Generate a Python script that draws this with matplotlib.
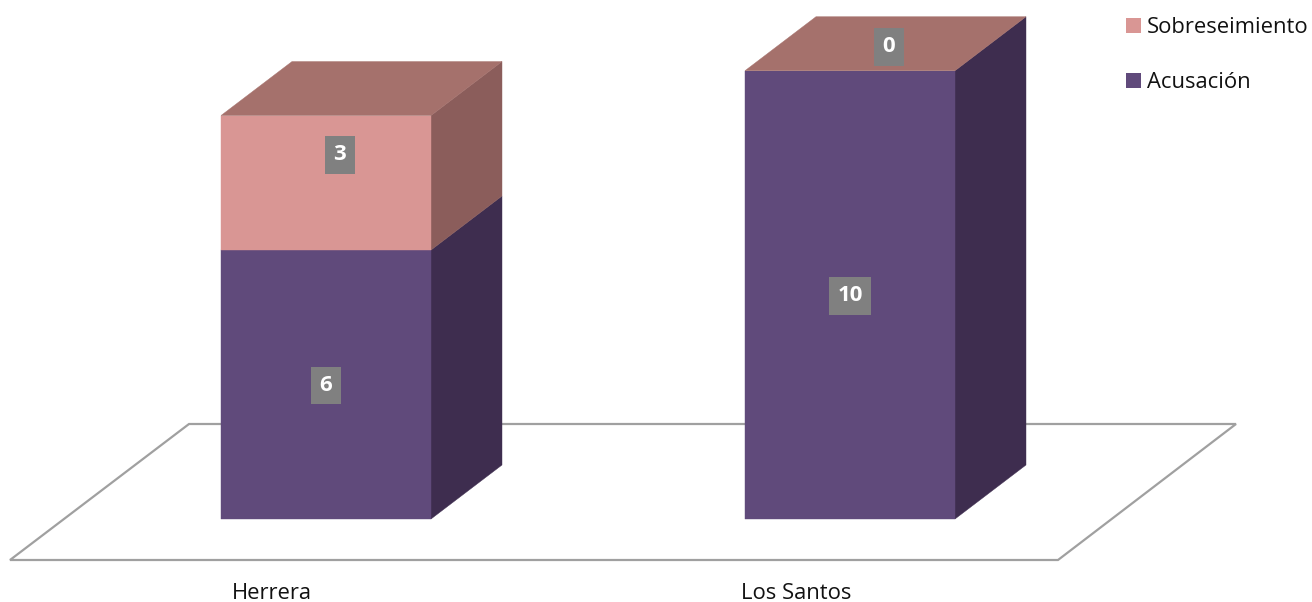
import matplotlib
matplotlib.use("Agg")
import matplotlib.pyplot as plt
from matplotlib.patches import Polygon, Patch

categorias = ["Herrera", "Los Santos"]
acusacion = [6, 10]
sobreseimiento = [3, 0]
nombres = ["Acusación", "Sobreseimiento"]

# Geometria en pixeles del original
W, H = 1312, 602
PX_X = 524.0     # pixeles por categoria
PX_Y = 44.83     # pixeles por unidad
X0, Y0 = 326.0, 519.0

ancho = 210 / PX_X
dx = 71 / PX_X
dy = 54 / PX_Y

colores = {"Acusación": ("#604A7B", "#3E2D4F", "#4F3D66"),
           "Sobreseimiento": ("#D99694", "#8B5D5B", "#A5716C")}

plt.rcParams['font.family'] = ['Open Sans', 'DejaVu Sans']

fig = plt.figure(figsize=(W / 100, H / 100), dpi=100)
ax = fig.add_axes([0, 0, 1, 1])
ax.set_xlim(-X0 / PX_X, (W - X0) / PX_X)
ax.set_ylim(-(H - Y0) / PX_Y, Y0 / PX_Y)
ax.axis("off")

def px(x, y):
    # pasa un punto del original a coordenadas de datos
    return ((x - X0) / PX_X, (Y0 - y) / PX_Y)

# Piso
piso = [px(10, 560), px(1058, 560), px(1236, 424), px(189, 424)]
ax.add_patch(Polygon(piso, closed=True, facecolor="white", edgecolor="#A0A0A0",
                     linewidth=1.6, zorder=1))

def caja(x, y0, y1, nombre, z):
    front, side, top = colores[nombre]
    izq, der = x - ancho / 2, x + ancho / 2
    if y1 > y0:
        ax.add_patch(Polygon([(der, y0), (der + dx, y0 + dy), (der + dx, y1 + dy), (der, y1)],
                             facecolor=side, edgecolor=side, linewidth=0.3, zorder=z))
        ax.add_patch(Polygon([(izq, y0), (der, y0), (der, y1), (izq, y1)],
                             facecolor=front, edgecolor=front, linewidth=0.3, zorder=z + 1))

def etiqueta(x, y, valor, ox=0, oy=0):
    ax.annotate(str(valor), (x, y), xytext=(ox, oy), textcoords="offset pixels",
                ha="center", va="center", color="white", fontsize=16, fontweight="bold",
                bbox=dict(boxstyle="square,pad=0.38", facecolor="#808080", edgecolor="none"),
                zorder=10)

for i, cat in enumerate(categorias):
    a, s = acusacion[i], sobreseimiento[i]
    caja(i, 0, a, "Acusación", 2)
    caja(i, a, a + s, "Sobreseimiento", 4)
    # la cara superior siempre es de la serie de arriba, aunque valga 0
    tope = a + s
    izq, der = i - ancho / 2, i + ancho / 2
    c = colores["Sobreseimiento"][2]
    ax.add_patch(Polygon([(izq, tope), (der, tope), (der + dx, tope + dy), (izq + dx, tope + dy)],
                         facecolor=c, edgecolor=c, linewidth=0.3, zorder=6))
    etiqueta(i, a / 2, a, oy=-1)
    if s > 0:
        etiqueta(i, a + s / 2, s, ox=14, oy=28)
    else:
        etiqueta(i, tope, s, ox=39, oy=24)
    ax.text(i - 54 / PX_X, px(0, 593.5)[1], cat, ha="center", va="center",
            fontsize=15.8, color="#111111")

# Leyenda
handles = [Patch(facecolor=colores[n][0], edgecolor="none") for n in nombres[::-1]]
ley = ax.legend(handles, nombres[::-1], loc="upper left",
                bbox_to_anchor=(1117 / W, 1 - 8 / H), frameon=False,
                fontsize=15.8, handlelength=0.68, handleheight=0.68, handletextpad=0.28,
                labelspacing=1.55, borderpad=0.4, borderaxespad=0, labelcolor="#111111")

fig.savefig("out.png", dpi=100)
